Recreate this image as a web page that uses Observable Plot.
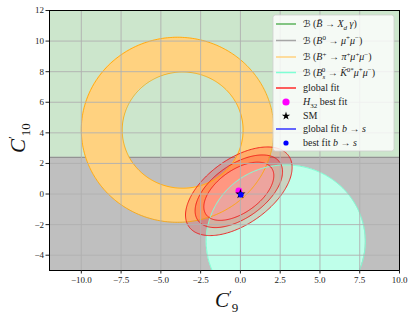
<!DOCTYPE html>
<html><head><meta charset="utf-8">
<script src="https://cdn.jsdelivr.net/npm/d3@7"></script>
<script src="https://cdn.jsdelivr.net/npm/@observablehq/plot@0.6"></script>
<style>body{margin:0;background:#fff} #chart{width:415px;height:317px}</style>
</head><body><div id="chart"></div>
<script>
// ---- values ----
const xDomain = [-12, 10];
const yDomain = [-5, 12];
const xTicks = [-10, -7.5, -5, -2.5, 0, 2.5, 5, 7.5, 10];
const yTicks = [-4, -2, 0, 2, 4, 6, 8, 10, 12];
const xdgBoundary = [2.4];              // C10' boundary between green / gray regions
const piOuter = [-3.95, 4.2, 6.05];     // B+ -> pi mu mu annulus outer circle: cx, cy, r
const piInner = [-3.63, 4.18, 3.8];     // inner circle
const kDisc = [2.85, -3.1, 5.0];        // Bs -> K* mu mu disc
const fitCenter = [-0.1, 0.18];
const fitSemiMajor = [3.9, 3.2, 2.56];
const fitSemiMinor = [2.1, 1.72, 1.38];
const fitAngleDeg = [37.4, 37.4, 37.4];
const h32Best = [{x: -0.1, y: 0.2}];
const smPoint = [{x: 0, y: 0}];
const bsBest = [{x: 0.03, y: -0.05}];
const legendRows = [
  {kind: "line", color: "#5cb35c", label: [["ℬ","cal"],[" (",""],["B\u0304","i"],[" → ",""],["X","i"],["d","isub"],[" γ","i"],[")",""]]},
  {kind: "line", color: "#a6a6a6", label: [["ℬ","cal"],[" (",""],["B","i"],["0","sup"],[" → ",""],["μ","i"],["+","sup"],["μ","i"],["−","sup"],[")",""]]},
  {kind: "line", color: "#ffd27f", label: [["ℬ","cal"],[" (",""],["B","i"],["+","sup"],[" → ",""],["π","i"],["+","sup"],["μ","i"],["+","sup"],["μ","i"],["−","sup"],[")",""]]},
  {kind: "line", color: "#7fffd4", label: [["ℬ","cal"],[" (",""],["B","i"],["s","isub"],["0","sup",-3.5],[" → ",""],["K\u0304","i"],["0*","sup"],["μ","i"],["+","sup"],["μ","i"],["−","sup"],[")",""]]},
  {kind: "line", color: "#ff2a2a", label: [["global fit",""]]},
  {kind: "dot", color: "magenta", label: [["H","i"],["32","sub"],[" best fit",""]]},
  {kind: "star", color: "black", label: [["SM",""]]},
  {kind: "line", color: "#3333ff", label: [["global fit ",""],["b","i"],[" → ",""],["s","i"]]},
  {kind: "dot", color: "blue", label: [["best fit ",""],["b","i"],[" → ",""],["s","i"]]}
];

// ---- geometry helpers (shapes built from the read parameters) ----
function circleSamples(cx, r, n) {
  const xs = [];
  for (let i = 0; i <= n; i++) xs.push(cx - r * Math.cos(Math.PI * i / n));
  return xs;
}
function annulusBands(outer, inner) {
  const [ox, oy, R] = outer, [ix, iy, r] = inner;
  const xs = circleSamples(ox, R, 360).concat(circleSamples(ix, r, 360)).sort((a, b) => a - b);
  const lower = [], upper = [];
  for (const x of xs) {
    const ho = Math.sqrt(Math.max(0, R * R - (x - ox) ** 2));
    const top = oy + ho, bot = oy - ho;
    const d = x - ix, inside = Math.abs(d) <= r;
    const hi = inside ? Math.sqrt(Math.max(0, r * r - d * d)) : 0;
    lower.push({x, y1: bot, y2: inside ? iy - hi : top});
    upper.push({x, y1: inside ? iy + hi : top, y2: top});
  }
  return {lower, upper};
}
function discBand(c) {
  const [cx, cy, r] = c;
  return circleSamples(cx, r, 400).map(x => {
    const h = Math.sqrt(Math.max(0, r * r - (x - cx) ** 2));
    return {x, y1: cy - h, y2: cy + h};
  });
}
function circleRing(c, n = 360) {
  const [cx, cy, r] = c;
  return d3.range(n).map(i => ({x: cx + r * Math.cos(2 * Math.PI * i / n), y: cy + r * Math.sin(2 * Math.PI * i / n)}));
}
function ellipseRing(k, n = 240) {
  const a = fitSemiMajor[k], b = fitSemiMinor[k], t = fitAngleDeg[k] * Math.PI / 180;
  return d3.range(n).map(i => {
    const u = 2 * Math.PI * i / n;
    const ex = a * Math.cos(u), ey = b * Math.sin(u);
    return {x: fitCenter[0] + ex * Math.cos(t) - ey * Math.sin(t), y: fitCenter[1] + ex * Math.sin(t) + ey * Math.cos(t), k};
  });
}
const ann = annulusBands(piOuter, piInner);
const kBand = discBand(kDisc);
const fitFills = ["red", "red", "#ff9c9c"];
const fitOpac = [0.17, 0.17, 0.6];
const fmtX = d => (d < 0 ? "\u2212" : "") + Math.abs(d).toFixed(1);
const fmtY = d => (d < 0 ? "\u2212" : "") + Math.abs(d);

const plot = Plot.plot({
  width: 415, height: 317,
  marginLeft: 49, marginRight: 16, marginTop: 10, marginBottom: 47,
  x: {domain: xDomain},
  y: {domain: yDomain},
  style: {fontFamily: "Liberation Serif, DejaVu Serif, serif", fontSize: "9px", background: "white", color: "#222"},
  marks: [
    Plot.rect([0], {x1: () => xDomain[0], x2: () => xDomain[1], y1: () => xdgBoundary[0], y2: () => yDomain[1], fill: "#008000", fillOpacity: 0.2}),
    Plot.rect([0], {x1: () => xDomain[0], x2: () => xDomain[1], y1: () => yDomain[0], y2: () => xdgBoundary[0], fill: "#808080", fillOpacity: 0.5}),
    Plot.ruleY(xdgBoundary, {stroke: "#8a8a8a", strokeWidth: 1}),
    Plot.areaY(ann.lower, {x: "x", y1: "y1", y2: "y2", fill: "#ffd280", clip: true}),
    Plot.areaY(ann.upper, {x: "x", y1: "y1", y2: "y2", fill: "#ffd280", clip: true}),
    Plot.areaY(kBand, {x: "x", y1: "y1", y2: "y2", fill: "#bfffea", clip: true}),
    ...[0, 1, 2].map(k => Plot.line(ellipseRing(k), {x: "x", y: "y", curve: "linear-closed", fill: fitFills[k], fillOpacity: fitOpac[k], stroke: "none", clip: true})),
    Plot.line(circleRing(piOuter), {x: "x", y: "y", curve: "linear-closed", stroke: "#ffa500", strokeWidth: 1, strokeOpacity: 0.85, clip: true}),
    Plot.line(circleRing(piInner), {x: "x", y: "y", curve: "linear-closed", stroke: "#ffa500", strokeWidth: 1, strokeOpacity: 0.85, clip: true}),
    Plot.line(circleRing(kDisc), {x: "x", y: "y", curve: "linear-closed", stroke: "#7fffd4", strokeWidth: 1, clip: true}),
    ...[0, 1, 2].map(k => Plot.line(ellipseRing(k), {x: "x", y: "y", curve: "linear-closed", stroke: "#ee1111", strokeWidth: 1, strokeOpacity: 0.85, clip: true})),
    Plot.gridX(xTicks, {stroke: "#b0b0b0", strokeOpacity: 0.9, strokeWidth: 1}),
    Plot.gridY(yTicks, {stroke: "#b0b0b0", strokeOpacity: 0.9, strokeWidth: 1}),
    Plot.dot(h32Best, {x: "x", y: "y", r: 3.4, fill: "magenta", stroke: "none"}),
    Plot.dot(smPoint, {x: "x", y: "y", r: 3.2, symbol: "star", fill: "black", stroke: "none"}),
    Plot.dot(bsBest, {x: "x", y: "y", r: 2.8, fill: "blue", stroke: "none"}),
    Plot.frame({stroke: "black", strokeWidth: 1}),
    Plot.axisX(xTicks, {tickSize: 3.5, tickPadding: 3, tickFormat: fmtX, label: null, fontSize: 9}),
    Plot.axisY(yTicks, {tickSize: 3.5, tickPadding: 2, tickFormat: fmtY, label: null, fontSize: 9})
  ]
});
document.getElementById("chart").appendChild(plot);

// ---- rich text helper ----
function rich(sel, segs, size) {
  let shift = 0;
  for (const [t, st, dx] of segs) {
    const ts = sel.append("tspan").text(t);
    let target = 0;
    if (st.includes("sub")) target = 0.3 * size;
    if (st.includes("sup")) target = -0.38 * size;
    if (target !== shift) { ts.attr("dy", target - shift); shift = target; }
    if (dx) ts.attr("dx", dx);
    if (st.startsWith("i")) ts.attr("font-style", "italic");
    if (st === "cal") ts.attr("font-family", "DejaVu Sans, DejaVu Serif").attr("font-size", size * 0.95);
    if (st.includes("sub") || st.includes("sup")) ts.attr("font-size", size * 0.7);
  }
}
const svg = d3.select(plot);
const font = "Liberation Serif, DejaVu Serif, serif";
// legend
const lg = svg.append("g").attr("font-family", font).attr("font-size", 10).attr("fill", "#222").attr("text-anchor", "start");
lg.append("rect").attr("x", 273).attr("y", 15).attr("width", 121).attr("height", 136).attr("rx", 2.5)
  .attr("fill", "white").attr("fill-opacity", 0.8).attr("stroke", "#d0d0d0").attr("stroke-opacity", 0.8);
const rowY = [24, 40.5, 57, 72.5, 88, 102, 116, 129, 143];
legendRows.forEach((row, i) => {
  const y = rowY[i];
  if (row.kind === "line") lg.append("line").attr("x1", 276).attr("x2", 296).attr("y1", y).attr("y2", y).attr("stroke", row.color).attr("stroke-width", 1.5);
  else if (row.kind === "dot") lg.append("circle").attr("cx", 286).attr("cy", y).attr("r", row.color === "magenta" ? 3.6 : 2.6).attr("fill", row.color);
  else lg.append("path").attr("d", d3.symbol(d3.symbolStar, 22)()).attr("transform", `translate(286,${y})`).attr("fill", row.color);
  const t = lg.append("text").attr("x", 303).attr("y", y + 3.4).attr("text-anchor", "start");
  rich(t, row.label, 10);
});
// axis labels
const xl = svg.append("text").attr("x", 215).attr("y", 307).attr("text-anchor", "start").attr("font-family", font).attr("font-size", 21).attr("fill", "#111");
xl.append("tspan").attr("font-style", "italic").text("C");
xl.append("tspan").attr("font-size", 13).attr("dy", -8).text("\u2032");
xl.append("tspan").attr("font-size", 13).attr("dx", 0).attr("dy", 13).text("9");
const yl = svg.append("text").attr("transform", "translate(25,153) rotate(-90)").attr("text-anchor", "start").attr("font-family", font).attr("font-size", 21).attr("fill", "#111");
yl.append("tspan").attr("font-style", "italic").text("C");
yl.append("tspan").attr("font-size", 13).attr("dy", -8).text("\u2032");
yl.append("tspan").attr("font-size", 13).attr("dx", 0).attr("dy", 13).text("10");
</script></body></html>
